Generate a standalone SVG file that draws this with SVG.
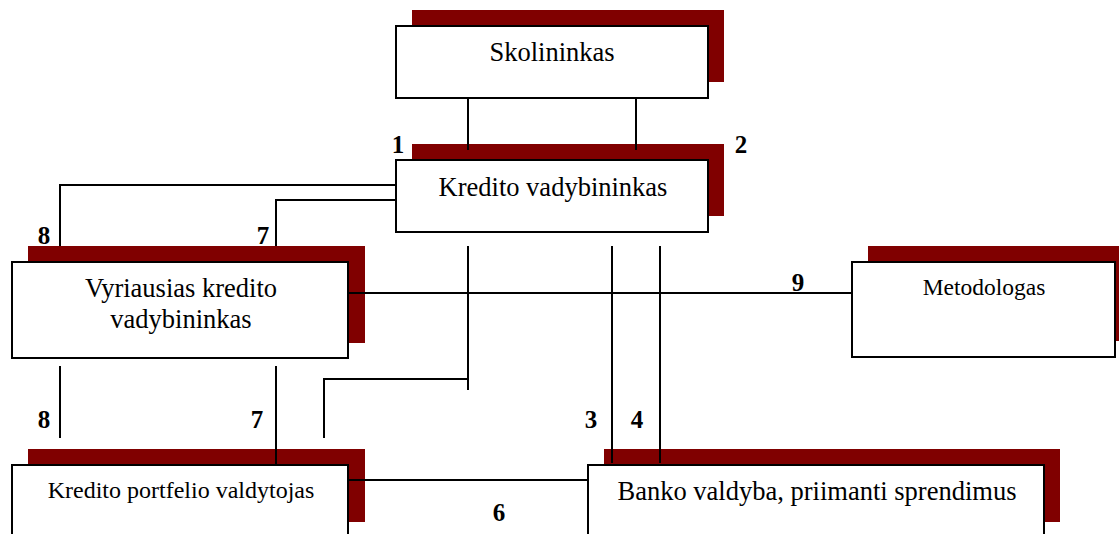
<svg xmlns="http://www.w3.org/2000/svg" width="1119" height="534" viewBox="0 0 1119 534">
<style>
.sh{fill:#800000;stroke:none}
.bx{fill:#fff;stroke:#000;stroke-width:2}
.t{font-family:"Liberation Serif","Times New Roman",serif;font-size:26.5px;fill:#000;text-anchor:middle}
.n{font-family:"Liberation Serif","Times New Roman",serif;font-size:25px;font-weight:bold;fill:#000;text-anchor:middle}
.c{fill:none;stroke:#000;stroke-width:2}
</style>
<rect width="1119" height="534" fill="#fff"/>
<g id="skolininkas">
<rect class="sh" x="412" y="10" width="312" height="72"/>
<rect class="bx" x="396" y="26" width="312" height="72"/>
<text class="t" x="552" y="61">Skolininkas</text>
</g>
<g id="kredito-vadybininkas">
<rect class="sh" x="412" y="144" width="312" height="72"/>
<rect class="bx" x="396" y="160" width="312" height="72"/>
<text class="t" x="553" y="196">Kredito vadybininkas</text>
</g>
<g id="vyriausias">
<rect class="sh" x="28" y="246" width="337" height="97"/>
<rect class="bx" x="12" y="262" width="336" height="96"/>
<text class="t" x="181" y="297">Vyriausias kredito</text>
<text class="t" x="181" y="328">vadybininkas</text>
</g>
<g id="metodologas">
<rect class="sh" x="868" y="246" width="260" height="95"/>
<rect class="bx" x="852" y="262" width="263" height="95"/>
<text class="t" x="984" y="295" style="font-size:23.5px">Metodologas</text>
</g>
<g id="portfelio">
<rect class="sh" x="28" y="449" width="337" height="73"/>
<rect class="bx" x="12" y="465" width="336" height="80"/>
<text class="t" x="181" y="498" style="font-size:24px">Kredito portfelio valdytojas</text>
</g>
<g id="banko-valdyba">
<rect class="sh" x="604" y="449" width="456" height="73"/>
<rect class="bx" x="588" y="465" width="456" height="80"/>
<text class="t" x="817" y="500">Banko valdyba, priimanti sprendimus</text>
</g>
<g id="connectors">
<path class="c" d="M468 98V150M636 98V150"/>
<path class="c" d="M396 185H60V246M396 200H276V246"/>
<path class="c" d="M348 293H852"/>
<path class="c" d="M60 366V438M276 366V464"/>
<path class="c" d="M468 246V390M468 379H324V438"/>
<path class="c" d="M612 246V463M660 246V463"/>
<path class="c" d="M348 480H588"/>
</g>
<g id="labels">
<text class="n" x="398" y="153">1</text>
<text class="n" x="741" y="153">2</text>
<text class="n" x="44" y="244">8</text>
<text class="n" x="263" y="244">7</text>
<text class="n" x="798" y="291">9</text>
<text class="n" x="44" y="428">8</text>
<text class="n" x="257" y="428">7</text>
<text class="n" x="591" y="428">3</text>
<text class="n" x="637" y="428">4</text>
<text class="n" x="499" y="521">6</text>
</g>
</svg>
